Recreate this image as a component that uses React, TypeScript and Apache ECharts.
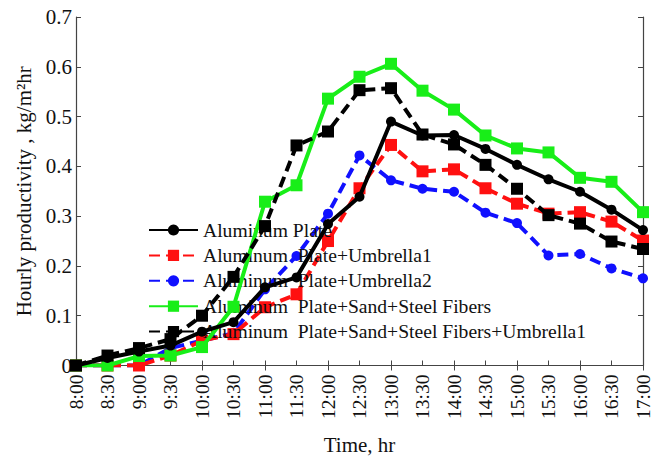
import React, { useEffect, useRef } from "react";
import * as echarts from "echarts";

const times = ["8:00", "8:30", "9:00", "9:30", "10:00", "10:30", "11:00", "11:30", "12:00", "12:30", "13:00", "13:30", "14:00", "14:30", "15:00", "15:30", "16:00", "16:30", "17:00"];
const yTicks = [0, 0.1, 0.2, 0.3, 0.4, 0.5, 0.6, 0.7];

const plate = [0, 0.015, 0.028, 0.04, 0.068, 0.087, 0.157, 0.177, 0.284, 0.339, 0.49, 0.462, 0.463, 0.435, 0.403, 0.374, 0.349, 0.313, 0.272];
const plateUmb1 = [0, 0, 0, 0.02, 0.05, 0.063, 0.117, 0.143, 0.25, 0.356, 0.443, 0.39, 0.394, 0.356, 0.325, 0.305, 0.308, 0.289, 0.251];
const plateUmb2 = [0, 0, 0, 0.035, 0.05, 0.065, 0.153, 0.22, 0.305, 0.422, 0.372, 0.355, 0.349, 0.307, 0.286, 0.221, 0.224, 0.195, 0.175];
const sandSteel = [0, 0, 0.019, 0.02, 0.037, 0.118, 0.329, 0.362, 0.536, 0.58, 0.606, 0.552, 0.514, 0.462, 0.436, 0.428, 0.377, 0.369, 0.308];
const sandSteelUmb1 = [0, 0.02, 0.035, 0.053, 0.1, 0.178, 0.28, 0.442, 0.47, 0.553, 0.557, 0.464, 0.444, 0.403, 0.355, 0.302, 0.285, 0.249, 0.234];

const seriesNames = [
  "Aluminum Plate",
  "Aluminum  Plate+Umbrella1",
  "Aluminum  Plate+Umbrella2",
  "Aluminum  Plate+Sand+Steel Fibers",
  "Aluminum  Plate+Sand+Steel Fibers+Umbrella1",
];

const FONT = "'Liberation Serif', 'Times New Roman', serif";

export default function App() {
  const ref = useRef<HTMLDivElement>(null);
  useEffect(() => {
    if (!ref.current) return;
    const chart = echarts.init(ref.current, null, { renderer: "svg" });
    const axisLine = { show: true, lineStyle: { color: "#444", width: 1.2 } };
    const tick = { show: true, inside: true, length: 5, lineStyle: { color: "#444" } };
    const mk = (name: string, data: number[], color: string, symbol: string, size: number, dashed: boolean, z: number) => ({
      name,
      type: "line",
      data,
      symbol,
      symbolSize: size,
      z,
      lineStyle: { color, width: 4, type: dashed ? [11, 6] : "solid" },
      itemStyle: { color },
    });
    chart.setOption({
      animation: false,
      backgroundColor: "#fff",
      grid: { left: 76, right: 24, top: 17, bottom: 91 },
      legend: {
        orient: "vertical",
        left: 143,
        top: 215,
        itemWidth: 49,
        itemHeight: 14,
        itemGap: 5.4,
        data: seriesNames,
        textStyle: { fontFamily: FONT, fontSize: 19.6, lineHeight: 20, color: "#111" },
      },
      xAxis: [
        {
          type: "category",
          data: times,
          boundaryGap: false,
          axisLine,
          axisTick: tick,
          axisLabel: { rotate: 90, fontFamily: FONT, fontSize: 19.5, color: "#111", margin: 9 },
          name: "Time, hr",
          nameLocation: "middle",
          nameGap: 68.5,
          nameTextStyle: { fontFamily: FONT, fontSize: 21, color: "#111" },
          splitLine: { show: false },
        },
        {
          type: "category",
          data: times,
          boundaryGap: false,
          position: "top",
          axisLine,
          axisTick: tick,
          axisLabel: { show: false },
          splitLine: { show: false },
        },
      ],
      yAxis: [
        {
          type: "value",
          min: yTicks[0],
          max: yTicks[yTicks.length - 1],
          interval: 0.1,
          axisLine,
          axisTick: tick,
          axisLabel: { fontFamily: FONT, fontSize: 21, color: "#111", margin: 4, formatter: (v: number) => (v === 0 ? "0" : v.toFixed(1)) },
          splitLine: { show: false },
          name: "Hourly productivity , kg/m\u00B2hr",
          nameLocation: "middle",
          nameGap: 40.5,
          nameTextStyle: { fontFamily: FONT, fontSize: 21, color: "#111" },
        },
        {
          type: "value",
          min: yTicks[0],
          max: yTicks[yTicks.length - 1],
          interval: 0.1,
          position: "right",
          axisLine,
          axisTick: tick,
          axisLabel: { show: false },
          splitLine: { show: false },
        },
      ],
      series: [
        mk(seriesNames[0], plate, "#000000", "circle", 10, false, 5),
        mk(seriesNames[1], plateUmb1, "#ff1010", "rect", 12, true, 3),
        mk(seriesNames[2], plateUmb2, "#1010ff", "circle", 10, true, 2),
        mk(seriesNames[3], sandSteel, "#18ee18", "rect", 12, false, 4),
        mk(seriesNames[4], sandSteelUmb1, "#000000", "rect", 12, true, 6),
      ],
    });
    return () => chart.dispose();
  }, []);
  return <div ref={ref} style={{ position: "fixed", left: 0, top: 0, width: 667, height: 460 }} />;
}
